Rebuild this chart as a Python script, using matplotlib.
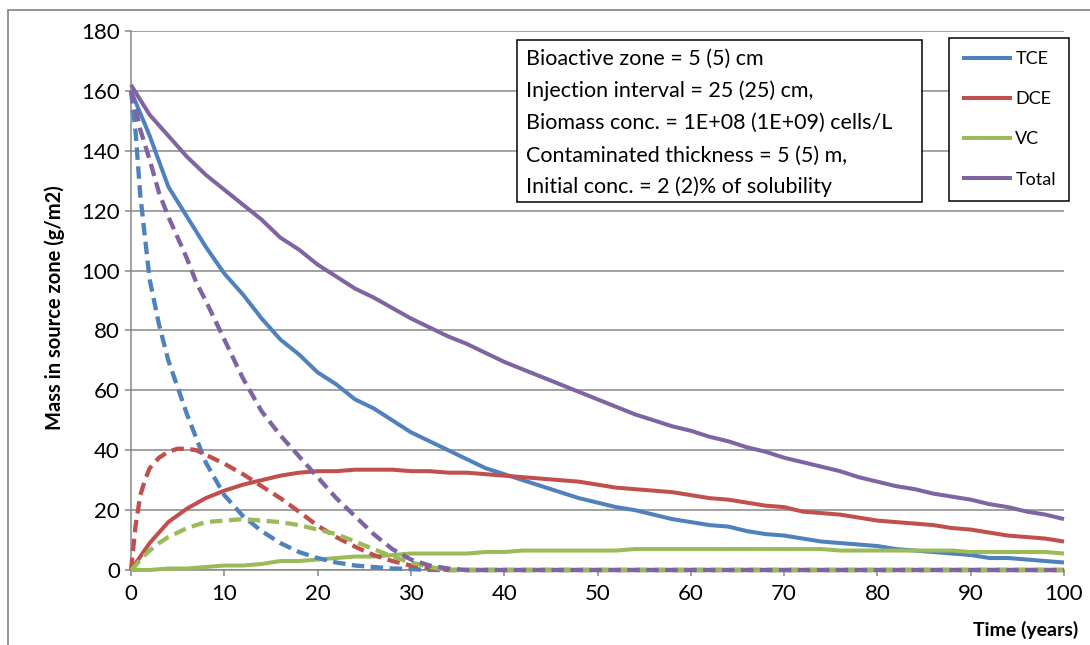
import matplotlib
matplotlib.use("Agg")
import matplotlib.pyplot as plt
from matplotlib.patches import Rectangle
import numpy as np

plt.rcParams['font.family'] = ['Lato', 'DejaVu Sans']

# ---- data ----
t_solid = list(range(0, 101, 2))
tce_solid = [160, 145, 128, 118, 108, 99, 92, 84, 77, 72, 66, 62, 57, 54, 50, 46, 43, 40, 37, 34,
             32, 30, 28, 26, 24, 22.5, 21, 20, 18.5, 17, 16, 15, 14.5, 13, 12, 11.5, 10.5, 9.5, 9,
             8.5, 8, 7, 6.5, 6, 5.5, 5, 4, 4, 3.5, 3, 2.5]
dce_solid = [0, 9, 16, 20.5, 24, 26.5, 28.5, 30, 31.5, 32.5, 33, 33, 33.5, 33.5, 33.5, 33, 33, 32.5,
             32.5, 32, 31.5, 31, 30.5, 30, 29.5, 28.5, 27.5, 27, 26.5, 26, 25, 24, 23.5, 22.5, 21.5,
             21, 19.5, 19, 18.5, 17.5, 16.5, 16, 15.5, 15, 14, 13.5, 12.5, 11.5, 11, 10.5, 9.5]
vc_solid = [0, 0, 0.5, 0.5, 1, 1.5, 1.5, 2, 3, 3, 3.5, 4, 4.5, 4.5, 5, 5.5, 5.5, 5.5, 5.5, 6, 6,
            6.5, 6.5, 6.5, 6.5, 6.5, 6.5, 7, 7, 7, 7, 7, 7, 7, 7, 7, 7, 7, 6.5, 6.5, 6.5, 6.5, 6.5,
            6.5, 6.5, 6, 6, 6, 6, 6, 5.5, 5.5][:51]
total_solid = [162, 152, 145, 138, 132, 127, 122, 117, 111, 107, 102, 98, 94, 91, 87.5, 84, 81, 78,
               75.5, 72.5, 69.5, 67, 64.5, 62, 59.5, 57, 54.5, 52, 50, 48, 46.5, 44.5, 43, 41, 39.5,
               37.5, 36, 34.5, 33, 31, 29.5, 28, 27, 25.5, 24.5, 23.5, 22, 21, 19.5, 18.5, 17]

t_dash = [0, 0.5, 1, 1.5, 2, 3, 4, 5, 6, 7, 8] + list(range(10, 101, 2))
zeros_tail = [0] * 34
tce_dash = [160, 146, 125, 111, 97, 82, 70, 61, 52, 44, 36,
            25, 18, 13, 9, 6, 4, 2.5, 1.5, 1, 0.5, 0.3, 0] + zeros_tail
dce_dash = [0, 15, 25, 30, 34, 37.5, 39.5, 40.5, 40.5, 40, 38.5,
            35.5, 32, 28, 24, 19.5, 14.8, 11, 7.8, 5, 3, 1.5, 0.6] + zeros_tail
vc_dash = [0, 1.5, 3.5, 5, 6.5, 9, 11, 12.5, 14, 15, 16,
           16.5, 17, 16.5, 16, 15, 13.5, 12, 9.5, 7, 4.5, 2.5, 1] + zeros_tail
total_dash = [160, 154, 147, 142, 137, 126, 118, 111, 104, 96, 90,
              77, 64, 53, 45, 38, 31, 24, 18, 12, 7, 3.5, 1.5, 0.5] + [0] * 33

series_names = ['TCE', 'DCE', 'VC', 'Total']
colors = ['#4F81BD', '#C0504D', '#9BBB59', '#8064A2']
x_ticks = list(range(0, 101, 10))
y_ticks = list(range(0, 181, 20))

info_lines = ["Bioactive zone = 5 (5) cm",
              "Injection interval = 25 (25) cm,",
              "Biomass conc. = 1E+08 (1E+09) cells/L",
              "Contaminated thickness = 5 (5) m,",
              "Initial conc. = 2 (2)% of solubility"]

# ---- figure ----
W, H = 1090, 645
fig = plt.figure(figsize=(W / 100, H / 100), dpi=100)
ax = fig.add_axes([131 / W, 1 - 570 / H, (1064 - 131) / W, (570 - 31) / H])

grid_c = '#878787'
lw = 2.9
handles = []
for vals, c, name in zip([tce_solid, dce_solid, vc_solid, total_solid], colors, series_names):
    h, = ax.plot(t_solid, vals, color=c, lw=lw, label=name, solid_capstyle='butt', zorder=3,
                 clip_on=False)
    handles.append(h)
for vals, c in zip([tce_dash, dce_dash, vc_dash, total_dash], colors):
    ax.plot(t_dash, vals, color=c, lw=3.1, dashes=(2.9, 1.5), dash_capstyle='butt', zorder=3,
            clip_on=False)

ax.set_xlim(0, 100)
ax.set_ylim(0, 180)
ax.set_xticks(x_ticks)
ax.set_yticks(y_ticks)
ax.yaxis.grid(True, color=grid_c, lw=1.1)
ax.set_axisbelow(True)
for s in ['top', 'right']:
    ax.spines[s].set_visible(False)
for s in ['left', 'bottom']:
    ax.spines[s].set_color(grid_c)
    ax.spines[s].set_linewidth(1.1)
ax.tick_params(axis='both', colors=grid_c, length=4, width=1.1, labelsize=16, labelcolor='black')
ax.tick_params(axis='y', pad=4)
ax.tick_params(axis='x', pad=6)

fig.text(55 / W, 1 - 308 / H, "Mass in source zone (g/m2)", rotation=90, ha='center', va='center',
         fontsize=14.5, fontweight='bold')
fig.text(1078 / W, 1 - 630 / H, "Time (years)", ha='right', va='center', fontsize=14, fontweight='bold')

# outer border
fig.patches.append(Rectangle((8 / W, -0.1), 1.2, 1.1 - 10 / H, transform=fig.transFigure,
                             fill=False, edgecolor='#8a8a8a', lw=1.3))

# info box
fig.patches.append(Rectangle((517 / W, 1 - 202 / H), (922 - 517) / W, (202 - 40) / H,
                             transform=fig.transFigure, facecolor='white', edgecolor='black',
                             lw=1.1, zorder=5))
line_y = [59, 91, 123, 156, 187]
for txt, yy in zip(info_lines, line_y):
    fig.text(526 / W, 1 - yy / H, txt, ha='left', va='center', fontsize=15.5, zorder=6)

leg = ax.legend(handles=handles, loc='upper right', bbox_to_anchor=(1069 / W, 1 - 38 / H),
                bbox_transform=fig.transFigure, borderaxespad=0, fontsize=13,
                handlelength=2.77, handletextpad=0.2, labelspacing=1.34, borderpad=0.72,
                fancybox=False, framealpha=1, edgecolor='black')
leg.get_frame().set_linewidth(1.1)
leg.set_zorder(6)

fig.savefig('out.png', dpi=100)
